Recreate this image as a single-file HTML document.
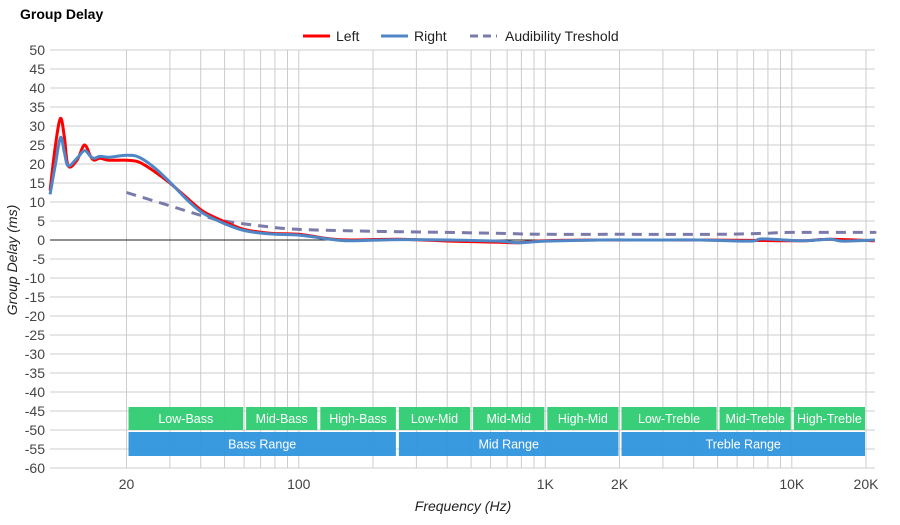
<!DOCTYPE html>
<html><head><meta charset="utf-8"><style>
body{margin:0;background:#fff;font-family:"Liberation Sans",Arial,sans-serif}
svg text{font-family:"Liberation Sans",Arial,sans-serif}
</style></head><body>
<svg id="c" width="900" height="520" xmlns="http://www.w3.org/2000/svg">
<text x="20" y="19" font-size="14" font-weight="bold" fill="#000">Group Delay</text>
<g>
<line x1="303" y1="36" x2="330" y2="36" stroke="#ff0000" stroke-width="3"/>
<text x="336" y="41" font-size="14" fill="#222">Left</text>
<line x1="381" y1="36" x2="408" y2="36" stroke="#4f86c6" stroke-width="3"/>
<text x="414" y="41" font-size="14" fill="#222">Right</text>
<line x1="470" y1="36" x2="497" y2="36" stroke="#7b7bab" stroke-width="3" stroke-dasharray="8,5"/>
<text x="505" y="41" font-size="14" fill="#222">Audibility Treshold</text>
</g>
<g id="grid"></g>
<g id="bands"></g>
<g id="series"></g>
<text transform="translate(17,260) rotate(-90)" text-anchor="middle" font-size="14" font-style="italic" fill="#222">Group Delay (ms)</text>
<text x="463" y="511" text-anchor="middle" font-size="14" font-style="italic" fill="#222">Frequency (Hz)</text>
</svg>
<script>
const yTicks=[50,45,40,35,30,25,20,15,10,5,0,-5,-10,-15,-20,-25,-30,-35,-40,-45,-50,-55,-60];
const xTickVals=[20,100,1000,2000,10000,20000];
const xTickLabels=["20","100","1K","2K","10K","20K"];
const gridFreqs=[20,30,40,50,60,70,80,90,100,200,300,400,500,600,700,800,900,1000,2000,3000,4000,5000,6000,7000,8000,9000,10000,20000];
const bandNames=["Low-Bass","Mid-Bass","High-Bass","Low-Mid","Mid-Mid","High-Mid","Low-Treble","Mid-Treble","High-Treble"];
const bandEdges=[20,60,120,250,500,1000,2000,5000,10000,20000];
const rangeNames=["Bass Range","Mid Range","Treble Range"];
const rangeEdges=[20,250,2000,20000];
const leftFreq=[9.8,10.3,10.8,11.2,11.6,12.6,13.5,14.3,14.8,15.6,17,20,22.5,26,30,36,41,50,60,76,100,134,161,256,410,650,780,1000,1670,2660,4250,6800,10900,14300,21700];
const leftVals=[13,25,32,27,19.5,21,25,22,21,21.5,21,21,20.5,18,15,10.5,7.5,4.8,2.8,1.8,1.5,0.3,0,0.2,-0.3,-0.6,-0.7,-0.2,0,0,0,-0.1,-0.2,0.2,-0.2];
const rightFreq=[9.8,10.3,10.8,11.2,11.6,12.6,13.5,14.3,14.8,15.6,17,20,22.5,26,30,36,41,50,60,76,100,134,161,256,410,650,780,1000,1670,2660,4250,6800,7600,10900,14300,16000,21700];
const rightVals=[12,20,27,23,19.5,21.5,23.5,22,21.5,22,21.8,22.3,21.8,19,15.2,10,7,4.3,2.5,1.6,1.3,0.2,-0.2,0.1,0,-0.3,-0.7,-0.3,0,0,0,-0.3,0.3,-0.2,0.2,-0.3,0];
const thrFreq=[20,30,40,50,70,100,200,400,700,1000,2000,5000,8000,10000,20000,21700];
const thrVals=[12.5,9,6.5,5,3.7,2.8,2.3,2,1.7,1.5,1.5,1.5,1.8,2,2,2];

const X0=50,X1=875,Y0=50,Y1=468;
const fx=f=>126.5+(Math.log10(f)-Math.log10(20))*246.5;
const fy=v=>240-v*3.8;
const NS="http://www.w3.org/2000/svg";
function mk(tag,attrs,parent){const e=document.createElementNS(NS,tag);for(const k in attrs)e.setAttribute(k,attrs[k]);parent.appendChild(e);return e;}
const grid=document.getElementById('grid');
yTicks.forEach(v=>{
  const l=mk('line',{x1:X0,x2:X1,y1:fy(v),y2:fy(v),stroke:'#ccc','stroke-width':1},grid);
  
  
  const t=mk('text',{x:45,y:fy(v)+5,'text-anchor':'end','font-size':14,fill:'#444'},grid);
  t.textContent=v;
  
  
});
gridFreqs.forEach(f=>{
  const l=mk('line',{x1:fx(f),x2:fx(f),y1:Y0,y2:Y1,stroke:'#ccc','stroke-width':1},grid);
  
  
});
const zl=mk('line',{x1:X0,x2:X1,y1:fy(0),y2:fy(0),stroke:'#222','stroke-width':1},grid);


xTickVals.forEach((f,i)=>{
  const t=mk('text',{x:fx(f),y:489,'text-anchor':'middle','font-size':14,fill:'#444'},grid);
  t.textContent=xTickLabels[i];
  
  
});
const bands=document.getElementById('bands');
function drawBand(a,b,y,h,color,label){
  const x1=fx(a)+2,x2=fx(b)-1;
  const r=mk('rect',{x:x1,y:y,width:x2-x1,height:h,fill:color,opacity:0.95},bands);
  
  
  const t=mk('text',{x:(x1+x2)/2,y:y+h/2+4.5,'text-anchor':'middle','font-size':12.5,fill:'#fff'},bands);
  t.textContent=label;
  
  
}
bandNames.forEach((n,i)=>drawBand(bandEdges[i],bandEdges[i+1],407,23,'#2ecc71',n));
rangeNames.forEach((n,i)=>drawBand(rangeEdges[i],rangeEdges[i+1],432,24,'#2f95de',n));
function pathFor(fr,vals){
  const p=fr.map((f,i)=>[fx(f),fy(vals[i])]);
  let d='M'+p[0][0].toFixed(1)+','+p[0][1].toFixed(1);
  for(let i=0;i<p.length-1;i++){
    const p0=p[i-1]||p[i],p1=p[i],p2=p[i+1],p3=p[i+2]||p2;
    const c1=[p1[0]+(p2[0]-p0[0])/6,p1[1]+(p2[1]-p0[1])/6];
    const c2=[p2[0]-(p3[0]-p1[0])/6,p2[1]-(p3[1]-p1[1])/6];
    d+=' C'+c1.map(v=>v.toFixed(1))+' '+c2.map(v=>v.toFixed(1))+' '+p2.map(v=>v.toFixed(1));
  }
  return d;
}
const s=document.getElementById('series');
const th=mk('path',{d:pathFor(thrFreq,thrVals),fill:'none',stroke:'#7b7bab','stroke-width':3,'stroke-dasharray':'10,7'},s);


const lp=mk('path',{d:pathFor(leftFreq,leftVals),fill:'none',stroke:'#ff0000','stroke-width':3},s);


const rp=mk('path',{d:pathFor(rightFreq,rightVals),fill:'none',stroke:'#4f86c6','stroke-width':3},s);


</script>
</body></html>
